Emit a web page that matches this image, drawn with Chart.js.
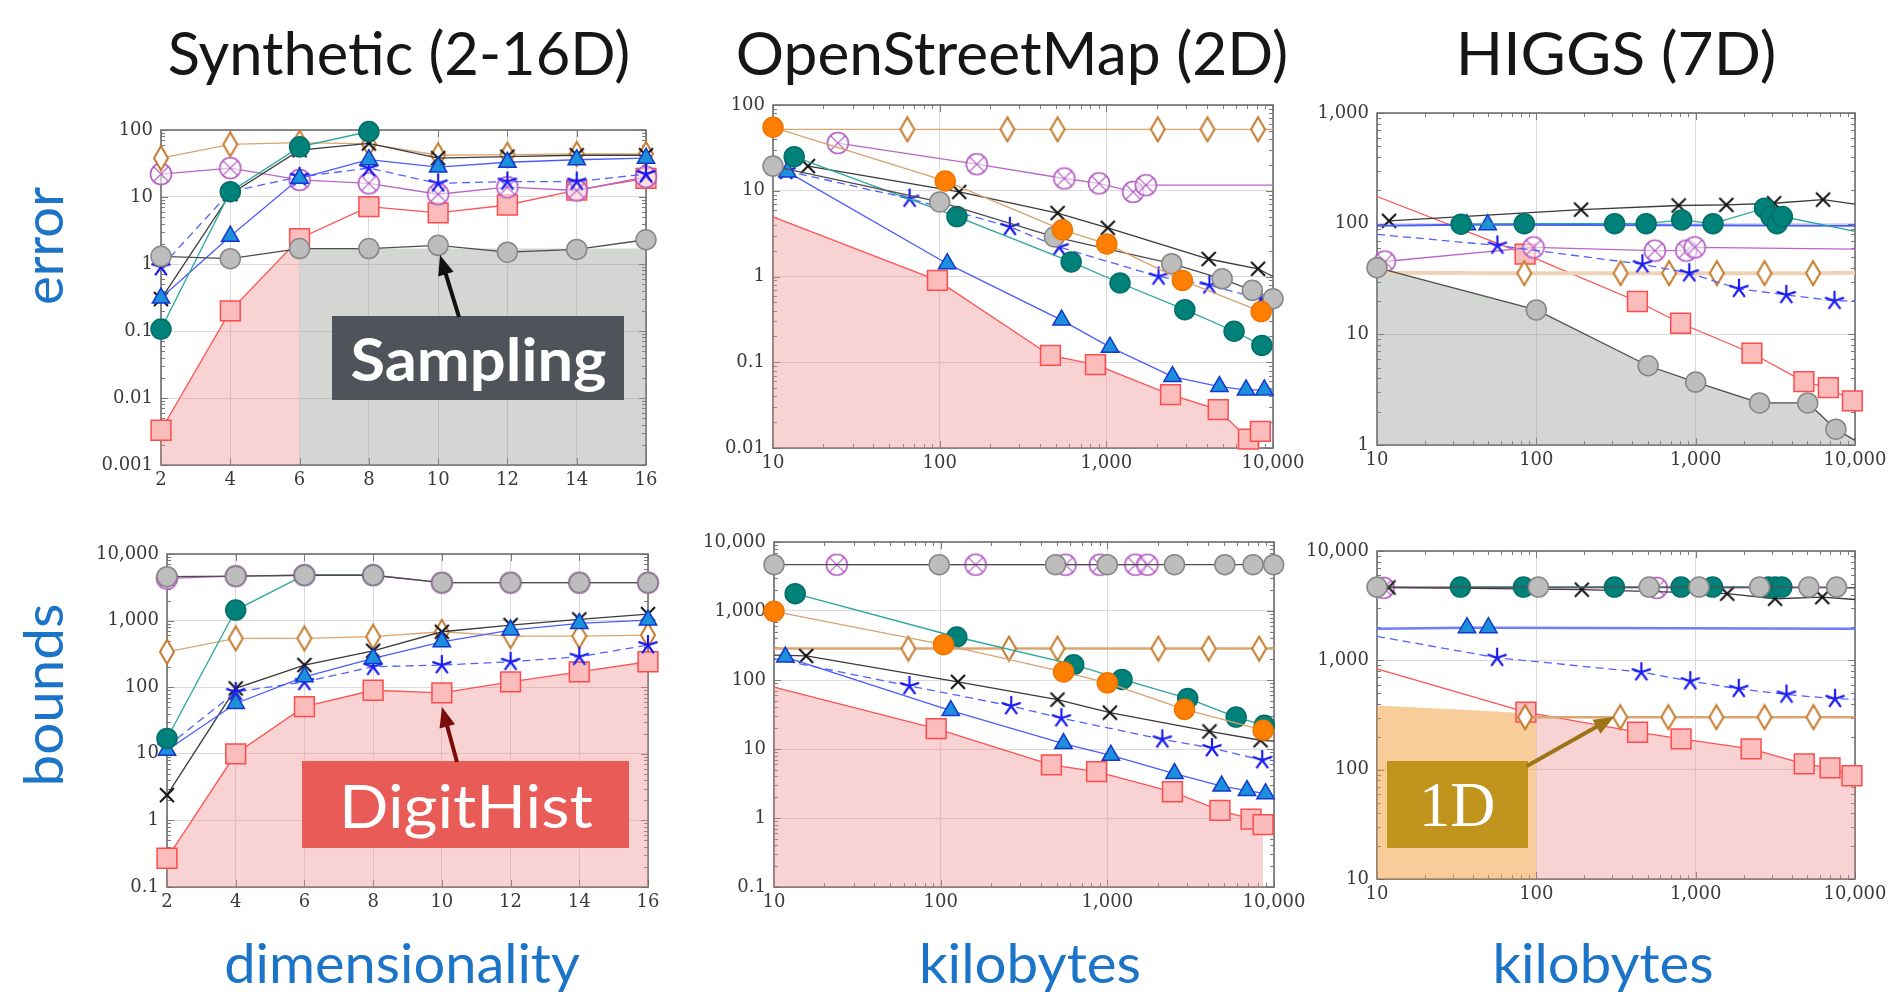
<!DOCTYPE html>
<html>
<head>
<meta charset="utf-8">
<title>Error and bounds</title>
<script src="https://cdn.jsdelivr.net/npm/chart.js@4.4.0/dist/chart.umd.min.js"></script>
<style>
  html, body { margin: 0; padding: 0; background: #fff; }
  #page { position: relative; width: 1892px; height: 995px; overflow: hidden; }
  canvas.panel { position: absolute; }
  .txt { position: absolute; white-space: nowrap; line-height: 1; font-family: Lato, sans-serif; }
  .title { color: #161616; font-size: 60px; }
  .axl { color: #1c74c9; font-size: 55px; }
  .box { position: absolute; display: flex; align-items: center; justify-content: center; color: #fff; }
  .box span { display: inline-block; white-space: nowrap; line-height: 1; }
  svg#arrows { position: absolute; left: 0; top: 0; }
</style>
</head>
<body>
<div id="page">
  <canvas class="panel" id="synErr"></canvas>
  <canvas class="panel" id="osmErr"></canvas>
  <canvas class="panel" id="higgsErr"></canvas>
  <canvas class="panel" id="synBnd"></canvas>
  <canvas class="panel" id="osmBnd"></canvas>
  <canvas class="panel" id="higgsBnd"></canvas>

  <div class="txt title fit" data-w="463" style="left:399px; top:22px;">Synthetic (2-16D)</div>
  <div class="txt title fit" data-w="553" style="left:1012px; top:22px;">OpenStreetMap (2D)</div>
  <div class="txt title fit" data-w="320" style="left:1616px; top:22px;">HIGGS (7D)</div>

  <div class="txt axl fit rot" data-w="118" style="left:42px; top:246px;">error</div>
  <div class="txt axl fit rot" data-w="183" style="left:42px; top:695px;">bounds</div>
  <div class="txt axl fit" data-w="355" style="left:402px; top:935px;">dimensionality</div>
  <div class="txt axl fit" data-w="222" style="left:1030px; top:935px;">kilobytes</div>
  <div class="txt axl fit" data-w="221" style="left:1603px; top:935px;">kilobytes</div>

  <div class="box" style="left:332px; top:316px; width:292px; height:84px; background:#4f545a;">
    <span class="fitbox" data-w="256" style="font-family:Lato; font-weight:700; font-size:60px;">Sampling</span>
  </div>
  <div class="box" style="left:302px; top:761px; width:327px; height:87px; background:#e95b57;">
    <span class="fitbox" data-w="254" style="font-family:Lato; font-size:60px;">DigitHist</span>
  </div>
  <div class="box" style="left:1387px; top:761px; width:141px; height:87px; background:#c1951d;">
    <span class="fitbox" data-w="76" style="font-family:'Liberation Serif'; font-size:64px;">1D</span>
  </div>

  <svg id="arrows" width="1892" height="995"></svg>
</div>

<script>
// ---------- data ----------
const synDims = [2, 4, 6, 8, 10, 12, 14, 16];

// Synthetic (2-16D), error
const synErrDigit    = [0.0033, 0.2, 2.4, 7.2, 5.8, 7.6, 12.7, 19];
const synErrSampling = [1.3, 1.2, 1.7, 1.7, 1.9, 1.5, 1.65, 2.3];
const synErrTeal     = [0.107, 12, 56, 95];
const synErrTri      = [0.31, 2.6, 19, 36, 28, 33, 36, 38];
const synErrStar     = [0.9, 12, 20, 27, 16, 17, 17, 22];
const synErrCross    = [0.3, 11, 50, 63, 38, 40, 42, 42];
const synErrDiamond  = [38, 61, 65, 62, 42, 43, 44, 44];
const synErrOtimes   = [22, 27, 18, 16, 11, 14, 12.5, 20];
const synErrSamplingFloor = [[6, 1.7], [16, 1.7]];

// Synthetic (2-16D), bounds
const synBndDigit    = [0.27, 10, 51, 90, 82, 120, 170, 241];
const synBndSampling = [4560, 4650, 4800, 4800, 3710, 3710, 3710, 3710];
const synBndTeal     = [17, 1440, 4800, 4800];
const synBndTri      = [11.3, 57, 143, 270, 481, 721, 908, 1019];
const synBndStar     = [12.8, 85, 120, 203, 215, 241, 287, 429];
const synBndCross    = [2.4, 96, 215, 352, 680, 857, 1043, 1253];
const synBndDiamond  = [340, 540, 540, 573, 680, 585, 585, 607];
const synBndOtimes   = [4300, 4650, 4800, 4800, 3710, 3710, 3710, 3710];

// OpenStreetMap (2D), error  [kilobytes, value]
const osmErrDigit    = [[10, 4.95, 'edge'], [97, 0.9], [462, 0.12], [860, 0.094], [2427, 0.042], [4690, 0.028], [7120, 0.0127], [8400, 0.0156]];
const osmErrSampling = [[10, 19.4], [100, 7.4], [488, 2.9], [2466, 1.41], [4955, 0.94], [7520, 0.69], [10000, 0.55]];
const osmErrTeal     = [[13.4, 25], [127, 5.0], [615, 1.48], [1208, 0.84], [2958, 0.41], [5840, 0.23], [8580, 0.157]];
const osmErrOrange   = [[10, 55], [108, 13], [545, 3.5], [1007, 2.4], [2860, 0.9], [8490, 0.39]];
const osmErrTri      = [[12.2, 16.6], [111, 1.41], [539, 0.31], [1052, 0.15], [2494, 0.068], [4770, 0.052], [6890, 0.0475], [8870, 0.0475], [10000, 0.047, 'edge']];
const osmErrStar     = [[12, 17], [66, 8.1], [264, 3.8], [521, 2.2], [2057, 1.0], [4155, 0.79], [8500, 0.55]];
const osmErrCross    = [[16.2, 19.4], [131, 9.7], [510, 5.5], [1020, 3.7], [4110, 1.6], [8130, 1.23], [10000, 1.0, 'edge']];
const osmErrDiamond  = [[10, 52, 'edge'], [64, 52], [255, 52], [510, 52], [2036, 52], [4045, 52], [8130, 52], [10000, 52, 'edge']];
const osmErrOtimes   = [[24.5, 36], [167, 20.4], [560, 13.9], [903, 12.2], [1448, 9.7], [1726, 11.6], [10000, 11.6, 'edge']];

// OpenStreetMap (2D), bounds
const osmBndDigit    = [[10, 79, 'edge'], [94, 19.7], [462, 5.9], [862, 4.7], [2458, 2.4], [4740, 1.29], [7280, 0.96], [8600, 0.8]];
const osmBndSampling = [[10, 4690], [98, 4690], [489, 4690], [1000, 4690], [2529, 4690], [5070, 4690], [7490, 4690], [9950, 4690]];
const osmBndTeal     = [[13.4, 1783], [125, 420], [628, 167], [1225, 102], [3036, 54], [5930, 29], [8750, 22], [10000, 20, 'edge']];
const osmBndOrange   = [[10, 990], [104, 325], [546, 131], [1000, 91], [2904, 37.6], [8610, 18.7]];
const osmBndTri      = [[11.7, 215], [115, 36], [546, 12], [1050, 8.1], [2529, 4.4], [4850, 2.9], [6890, 2.5], [8900, 2.25], [10000, 2.1, 'edge']];
const osmBndStar     = [[10, 204, 'edge'], [65, 82], [265, 42], [530, 28], [2138, 13.8], [4245, 10.3], [8500, 6.9], [10000, 6.8, 'edge']];
const osmBndCross    = [[10, 230, 'edge'], [15.6, 223], [127, 94], [502, 52], [1036, 33.6], [4100, 18], [8300, 13.4], [10000, 13, 'edge']];
const osmBndDiamond  = [[10, 285, 'edge'], [64, 285], [257, 285], [502, 285], [2023, 285], [4056, 285], [8145, 285], [10000, 285, 'edge']];
const osmBndOtimes   = [[23.8, 4690], [162, 4690], [561, 4690], [902, 4690], [1472, 4690], [1740, 4690]];

// HIGGS (7D), error
const higgsErrDigit    = [[10, 176, 'edge'], [85, 53], [431, 19.8], [804, 12.6], [2255, 6.75], [4780, 3.74], [6800, 3.3], [9630, 2.5]];
const higgsErrSampling = [[10, 40], [100, 16.6], [503, 5.2], [1000, 3.7], [2518, 2.4], [5050, 2.4], [7590, 1.39], [10000, 1.1, 'edge']];
const higgsErrTeal     = [[33.7, 99], [84, 100], [310, 100], [489, 100], [817, 108], [1285, 100], [2706, 138], [2970, 116], [3240, 100], [3500, 116], [10000, 85, 'edge']];
const higgsErrTri      = [[10, 96, 'edge'], [36.6, 98], [49.5, 98], [10000, 96, 'edge']];
const higgsErrStar     = [[10, 80, 'edge'], [57, 63.5], [463, 43], [912, 35.7], [1870, 25.8], [3705, 22.7], [7430, 20.1], [10000, 20, 'edge']];
const higgsErrCross    = [[11.9, 106], [191, 134], [782, 146], [1558, 148], [3105, 153], [6300, 165], [10000, 150, 'edge']];
const higgsErrDiamond  = [[10, 36, 'edge'], [84, 35.7], [338, 35.7], [681, 35.7], [1358, 35.7], [2706, 35.7], [5455, 35.7], [10000, 36, 'edge']];
const higgsErrOtimes   = [[11.2, 45.5], [96, 61], [555, 57], [873, 57], [986, 61], [10000, 59, 'edge']];

// HIGGS (7D), bounds
const higgsBndDigit    = [[10, 837, 'edge'], [86, 336], [432, 220], [810, 191], [2228, 155], [4800, 113], [6970, 104], [9570, 88]];
const higgsBndSampling = [[10, 4680], [103, 4680], [510, 4680], [1050, 4680], [2518, 4680], [5130, 4680], [7660, 4680], [10000, 4600, 'edge']];
const higgsBndTeal     = [[33.4, 4680], [83, 4680], [309, 4680], [810, 4680], [1277, 4680], [2862, 4680], [3150, 4680], [3475, 4680]];
const higgsBndTri      = [[10, 1945, 'edge'], [36.7, 1990], [50, 1990], [10000, 1945, 'edge']];
const higgsBndStar     = [[10, 1655, 'edge'], [56.7, 1056], [456, 780], [925, 645], [1865, 549], [3715, 487], [7490, 445], [10000, 440, 'edge']];
const higgsBndCross    = [[11.8, 4640], [193, 4430], [1578, 4070], [3150, 3660], [6230, 3790], [10000, 3600, 'edge']];
const higgsBndDiamond  = [[85, 302], [336, 302], [674, 302], [1350, 302], [2706, 302], [5485, 302], [10000, 302, 'edge']];
const higgsBndOtimes   = [[11, 4600], [570, 4600], [10000, 4600, 'edge']];
const higgsBnd1D       = [[10, 386], [40, 350], [100, 324]];
const higgsBndBest     = [[100, 324], [432, 220], [810, 191], [2228, 155], [4800, 113], [6970, 104], [10000, 86]];

// ---------- styling ----------
const M = { l: 85, r: 40, t: 22, b: 45 };   // room around each plot area
const TICK_FONT = { family: 'DejaVu Serif', size: 18 };
const PINK = 'rgba(240,140,140,0.38)';
const GRAY = 'rgba(140,146,140,0.38)';
const ORANGE = 'rgba(242,160,60,0.52)';

function mk(w, h, draw) {
  const c = document.createElement('canvas');
  c.width = w; c.height = h;
  draw(c.getContext('2d'));
  return c;
}
const diamondImg = mk(18, 28, g => {
  g.beginPath(); g.moveTo(9, 2); g.lineTo(16, 14); g.lineTo(9, 26); g.lineTo(2, 14); g.closePath();
  g.fillStyle = '#fff'; g.fill(); g.strokeStyle = '#c47a2c'; g.lineWidth = 2; g.stroke();
});
const otimesImg = mk(26, 26, g => {
  g.beginPath(); g.arc(13, 13, 10.5, 0, 2 * Math.PI);
  g.fillStyle = 'rgba(255,255,255,0.55)'; g.fill();
  g.strokeStyle = '#b45cc4'; g.lineWidth = 1.6; g.stroke();
  g.beginPath(); g.moveTo(5.6, 5.6); g.lineTo(20.4, 20.4); g.moveTo(20.4, 5.6); g.lineTo(5.6, 20.4);
  g.lineWidth = 1.3; g.stroke();
});
const starImg = mk(24, 24, g => {
  g.strokeStyle = '#1a1af0'; g.lineWidth = 2.2; g.beginPath();
  for (let k = 0; k < 5; k++) {
    const a = -Math.PI / 2 + k * 2 * Math.PI / 5;
    g.moveTo(12, 12); g.lineTo(12 + 10 * Math.cos(a), 12 + 10 * Math.sin(a));
  }
  g.stroke();
});
const crossImg = mk(20, 20, g => {
  g.strokeStyle = '#111'; g.lineWidth = 2; g.beginPath();
  g.moveTo(3, 3); g.lineTo(17, 17); g.moveTo(17, 3); g.lineTo(3, 17); g.stroke();
});

// top-most first
const STYLE = {
  orange:   { pointStyle: 'circle', r: 10, pointBackgroundColor: '#ff8000', pointBorderColor: '#ef7400', borderColor: '#d9a26e' },
  sampling: { pointStyle: 'circle', r: 10, pointBackgroundColor: '#bdbdbd', pointBorderColor: '#878787', borderColor: '#4d4d4d' },
  teal:     { pointStyle: 'circle', r: 10, pointBackgroundColor: '#00827a', pointBorderColor: '#006f69', borderColor: '#2aa69c' },
  tri:      { pointStyle: 'triangle', r: 10, pointBackgroundColor: '#1e8fdc', pointBorderColor: '#1238cc', borderColor: '#4b5cff' },
  star:     { pointStyle: starImg, r: 9, borderColor: '#5262ff', borderDash: [8, 5] },
  cross:    { pointStyle: crossImg, r: 8, borderColor: '#3a3a3a' },
  diamond:  { pointStyle: diamondImg, r: 9, borderColor: '#dba673' },
  otimes:   { pointStyle: otimesImg, r: 10, borderColor: '#b966c8' },
  digit:    { pointStyle: 'rect', r: 14, pointBackgroundColor: '#fbbcbc', pointBorderColor: '#ff4b4b', borderColor: '#ff5252' }
};
const ORDER = Object.keys(STYLE);

function pts(d) {
  return d.map((p, i) => Array.isArray(p)
    ? { x: p[0], y: p[1], edge: p[2] === 'edge' }
    : { x: synDims[i], y: p, edge: false });
}

function decades(min, max) {
  const out = [];
  for (let e = Math.round(Math.log10(min)); e <= Math.round(Math.log10(max)); e++) out.push(Math.pow(10, e));
  return out;
}
function fmt(v) {
  v = Number(v);
  if (v >= 1) return Math.round(v).toLocaleString('en-US');
  return String(Number(v.toPrecision(1)));
}

function yAxis(range) {
  return {
    type: 'logarithmic', position: 'left', min: range[0], max: range[1],
    afterBuildTicks: s => { s.ticks = decades(range[0], range[1]).map(v => ({ value: v })); },
    afterFit: s => { s.width = M.l; },
    ticks: { font: TICK_FONT, color: '#3a3a3a', padding: 8, callback: fmt, autoSkip: false },
    grid: { color: '#dadada', drawTicks: false },
    border: { display: false }
  };
}
function xAxis(kind) {
  const base = {
    position: 'bottom',
    afterFit: s => { s.height = M.b; },
    ticks: { font: TICK_FONT, color: '#3a3a3a', padding: 5, maxRotation: 0, autoSkip: false, callback: fmt },
    grid: { color: '#dadada', drawTicks: false },
    border: { display: false }
  };
  if (kind === 'dim') {
    return Object.assign(base, { type: 'linear', min: 2, max: 16,
      afterBuildTicks: s => { s.ticks = synDims.map(v => ({ value: v })); } });
  }
  return Object.assign(base, { type: 'logarithmic', min: 10, max: 10000,
    afterBuildTicks: s => { s.ticks = decades(10, 10000).map(v => ({ value: v })); } });
}

// frame, inner major and minor ticks
const axisFrame = {
  id: 'axisFrame',
  beforeDatasetsDraw(chart) {
    const { ctx, chartArea: a } = chart;
    const sx = chart.scales.x, sy = chart.scales.y;
    ctx.save();
    ctx.strokeStyle = '#7a7a7a';
    ctx.lineWidth = 1;
    const marks = (scale, isLog) => {
      const out = [];
      if (isLog) {
        decades(scale.min, scale.max).forEach(d => {
          out.push([d, 7]);
          for (let k = 2; k <= 9; k++) {
            const v = k * d;
            if (v < scale.max) out.push([v, 4]);
          }
        });
      } else {
        scale.ticks.forEach(t => out.push([t.value, 7]));
      }
      return out;
    };
    ctx.beginPath();
    marks(sy, true).forEach(([v, len]) => {
      const p = Math.round(sy.getPixelForValue(v)) + 0.5;
      ctx.moveTo(a.left, p); ctx.lineTo(a.left + len, p);
      ctx.moveTo(a.right, p); ctx.lineTo(a.right - len, p);
    });
    marks(sx, sx.type === 'logarithmic').forEach(([v, len]) => {
      const p = Math.round(sx.getPixelForValue(v)) + 0.5;
      ctx.moveTo(p, a.bottom); ctx.lineTo(p, a.bottom - len);
      ctx.moveTo(p, a.top); ctx.lineTo(p, a.top + len);
    });
    ctx.stroke();
    ctx.lineWidth = 1.6;
    ctx.strokeStyle = '#6e6e6e';
    ctx.strokeRect(a.left, a.top, a.right - a.left, a.bottom - a.top);
    ctx.restore();
  }
};

function makePanel(id, rect, xKind, yRange, series, bands) {
  const [l, t, r, b] = rect;
  const cv = document.getElementById(id);
  cv.width = (r - l) + M.l + M.r;
  cv.height = (b - t) + M.t + M.b;
  cv.style.left = (l - M.l) + 'px';
  cv.style.top = (t - M.t) + 'px';

  const datasets = [];
  ORDER.forEach((key, i) => {
    if (!series[key]) return;
    const st = STYLE[key];
    const over = (series._style && series._style[key]) || {};
    datasets.push(Object.assign({
      data: pts(series[key]),
      order: i,
      pointStyle: st.pointStyle,
      pointRadius: c => (c.raw && c.raw.edge) ? 0 : st.r,
      pointBackgroundColor: st.pointBackgroundColor || '#fff',
      pointBorderColor: st.pointBorderColor || st.borderColor,
      pointBorderWidth: 1.5,
      borderColor: st.borderColor,
      borderWidth: 1.3,
      borderDash: st.borderDash || [],
      fill: false,
      tension: 0,
      clip: false
    }, over));
  });
  bands.forEach(bd => {
    datasets.push({
      data: pts(bd.data), order: 50, fill: 'start', backgroundColor: bd.color,
      borderWidth: 0, pointRadius: 0, tension: 0
    });
  });

  return new Chart(cv, {
    type: 'line',
    data: { datasets },
    options: {
      responsive: false, animation: false, devicePixelRatio: 1, events: [],
      parsing: false, normalized: true,
      layout: { padding: { left: 0, top: M.t, right: M.r, bottom: 0 } },
      plugins: { legend: { display: false }, tooltip: { enabled: false } },
      scales: { x: xAxis(xKind), y: yAxis(yRange) }
    },
    plugins: [axisFrame]
  });
}

makePanel('synErr', [161, 130, 646, 465], 'dim', [0.001, 100], {
  orange: null, sampling: synErrSampling, teal: synErrTeal, tri: synErrTri, star: synErrStar,
  cross: synErrCross, diamond: synErrDiamond, otimes: synErrOtimes, digit: synErrDigit
}, [{ data: synErrDigit.slice(0, 3), color: PINK }, { data: synErrSamplingFloor, color: GRAY }]);

makePanel('osmErr', [773, 105, 1273, 448], 'kb', [0.01, 100], {
  orange: osmErrOrange, sampling: osmErrSampling, teal: osmErrTeal, tri: osmErrTri, star: osmErrStar,
  cross: osmErrCross, diamond: osmErrDiamond, otimes: osmErrOtimes, digit: osmErrDigit
}, [{ data: osmErrDigit, color: PINK }]);

makePanel('higgsErr', [1377, 113, 1855, 445], 'kb', [1, 1000], {
  sampling: higgsErrSampling, teal: higgsErrTeal, tri: higgsErrTri, star: higgsErrStar,
  cross: higgsErrCross, diamond: higgsErrDiamond, otimes: higgsErrOtimes, digit: higgsErrDigit,
  _style: { diamond: { borderColor: '#efd3b6', borderWidth: 4 }, tri: { borderWidth: 2 } }
}, [{ data: higgsErrSampling, color: GRAY }]);

makePanel('synBnd', [167, 554, 648, 887], 'dim', [0.1, 10000], {
  sampling: synBndSampling, teal: synBndTeal, tri: synBndTri, star: synBndStar,
  cross: synBndCross, diamond: synBndDiamond, otimes: synBndOtimes, digit: synBndDigit
}, [{ data: synBndDigit, color: PINK }]);

makePanel('osmBnd', [774, 542, 1274, 887], 'kb', [0.1, 10000], {
  orange: osmBndOrange, sampling: osmBndSampling, teal: osmBndTeal, tri: osmBndTri, star: osmBndStar,
  cross: osmBndCross, diamond: osmBndDiamond, otimes: osmBndOtimes, digit: osmBndDigit,
  _style: { diamond: { borderWidth: 2.5 } }
}, [{ data: osmBndDigit, color: PINK }]);

makePanel('higgsBnd', [1377, 551, 1855, 879], 'kb', [10, 10000], {
  sampling: higgsBndSampling, teal: higgsBndTeal, tri: higgsBndTri, star: higgsBndStar,
  cross: higgsBndCross, diamond: higgsBndDiamond, otimes: higgsBndOtimes, digit: higgsBndDigit,
  _style: { tri: { borderWidth: 2.5, borderColor: '#6f7dff' }, diamond: { borderWidth: 2.5 } }
}, [{ data: higgsBnd1D, color: ORANGE }, { data: higgsBndBest, color: PINK }]);

// ---------- annotation arrows ----------
const svg = document.getElementById('arrows');
function arrow(x1, y1, x2, y2, color, w) {
  const ns = 'http://www.w3.org/2000/svg';
  const ang = Math.atan2(y2 - y1, x2 - x1), hl = 20, hw = 8;
  const bx = x2 - hl * Math.cos(ang), by = y2 - hl * Math.sin(ang);
  const ln = document.createElementNS(ns, 'line');
  ln.setAttribute('x1', x1); ln.setAttribute('y1', y1);
  ln.setAttribute('x2', bx + 4 * Math.cos(ang)); ln.setAttribute('y2', by + 4 * Math.sin(ang));
  ln.setAttribute('stroke', color); ln.setAttribute('stroke-width', w);
  svg.appendChild(ln);
  const pg = document.createElementNS(ns, 'polygon');
  const px = Math.sin(ang) * hw, py = -Math.cos(ang) * hw;
  pg.setAttribute('points', `${x2},${y2} ${bx + px},${by + py} ${bx - px},${by - py}`);
  pg.setAttribute('fill', color);
  svg.appendChild(pg);
}
arrow(459, 317, 440, 255, '#111', 4);
arrow(457, 762, 442, 707, '#7a0c0c', 4);
arrow(1527, 766, 1614, 717, '#9c7415', 4);

// ---------- fit text widths ----------
document.querySelectorAll('.fit').forEach(el => {
  const k = Number(el.dataset.w) / el.offsetWidth;
  el.style.transform = el.classList.contains('rot')
    ? `translate(-50%, -50%) rotate(-90deg) scaleX(${k})`
    : `translateX(-50%) scaleX(${k})`;
});
document.querySelectorAll('.fitbox').forEach(el => {
  const k = Number(el.dataset.w) / el.offsetWidth;
  el.style.transform = `scaleX(${k})`;
});
</script>
</body>
</html>
